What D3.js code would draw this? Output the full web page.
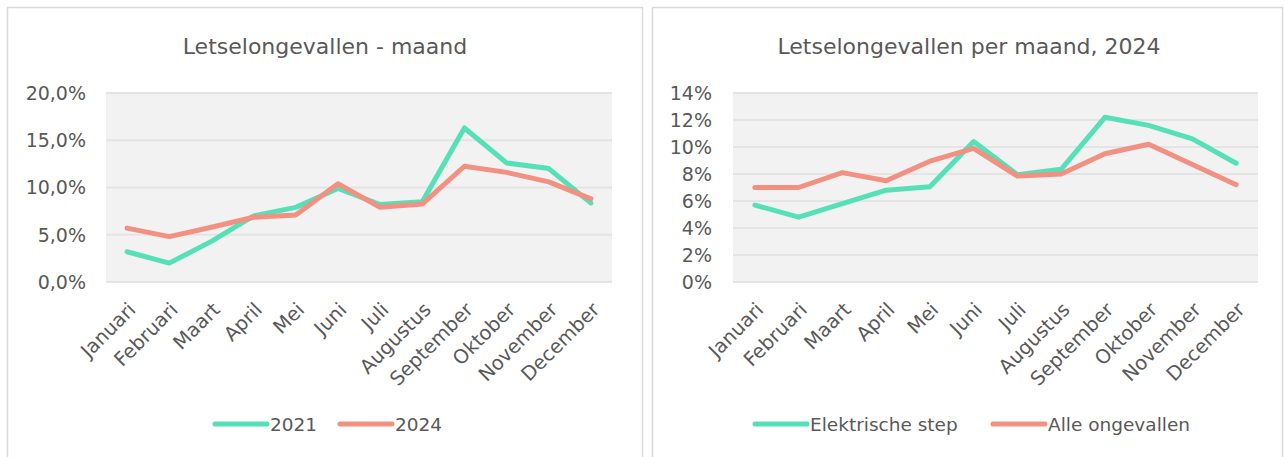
<!DOCTYPE html>
<html>
<head>
<meta charset="utf-8">
<script src="https://cdn.jsdelivr.net/npm/d3@7"></script>
<style>
  body { margin: 0; background: #fff; }
  svg { display: block; font-family: "DejaVu Sans", Verdana, sans-serif; }
</style>
</head>
<body>
<svg id="chart" width="1285" height="457"></svg>
<script>
// months on the x axis
const months = ["Januari", "Februari", "Maart", "April", "Mei", "Juni", "Juli",
  "Augustus", "September", "Oktober", "November", "December"];

// left chart: share of injury accidents per month
const series2021 = [3.2, 2.0, 4.3, 7.0, 7.9, 9.9, 8.2, 8.5, 16.3, 12.6, 12.0, 8.35];
const series2024 = [5.7, 4.8, 5.8, 6.85, 7.1, 10.4, 7.9, 8.25, 12.25, 11.6, 10.6, 8.8];
const leftTicks = [0, 5, 10, 15, 20];

// right chart: 2024, e-step vs all accidents
const stepValues = [5.7, 4.8, 5.8, 6.8, 7.05, 10.4, 7.95, 8.35, 12.2, 11.6, 10.6, 8.8];
const alleValues = [7.0, 7.0, 8.1, 7.5, 8.95, 9.9, 7.85, 8.0, 9.5, 10.2, 8.7, 7.2];
const rightTicks = [0, 2, 4, 6, 8, 10, 12, 14];

const green = "#55e0b8";
const red = "#f29182";
const textColor = "#595959";

const nl = d3.formatLocale({ decimal: ",", thousands: ".", grouping: [3], currency: ["€", ""] });

const svg = d3.select("#chart");

function drawChart(opt) {
  const g = svg.append("g");

  // panel border
  g.append("rect")
    .attr("x", opt.panel[0] + 0.5).attr("y", 7.5)
    .attr("width", opt.panel[1] - opt.panel[0]).attr("height", 470)
    .attr("fill", "#fff").attr("stroke", "#d9d9d9").attr("stroke-width", 1.5);

  const x = d3.scaleBand().domain(months).range(opt.xRange);
  const y = d3.scaleLinear().domain([0, opt.max]).range([282, 93]);

  // plot background
  g.append("rect")
    .attr("x", opt.xRange[0]).attr("y", y(opt.max))
    .attr("width", opt.xRange[1] - opt.xRange[0]).attr("height", y(0) - y(opt.max))
    .attr("fill", "#f2f2f2");

  // gridlines
  g.selectAll(".grid").data(opt.ticks).enter().append("line")
    .attr("x1", opt.xRange[0]).attr("x2", opt.xRange[1])
    .attr("y1", d => y(d)).attr("y2", d => y(d))
    .attr("stroke", "#e4e4e4").attr("stroke-width", 2);

  // y axis labels
  g.selectAll(".ytick").data(opt.ticks).enter().append("text")
    .attr("x", opt.labelRight).attr("y", d => y(d))
    .attr("dy", "0.36em")
    .attr("text-anchor", "end")
    .attr("font-size", 19)
    .attr("fill", textColor)
    .text(d => opt.fmt(d));

  // x axis labels, rotated
  g.selectAll(".xtick").data(months).enter().append("text")
    .attr("transform", d => "translate(" + (x(d) + x.bandwidth() / 2 + 5) + ",306) rotate(-45)")
    .attr("text-anchor", "end")
    .attr("dy", "0.35em")
    .attr("font-size", 19.5)
    .attr("fill", textColor)
    .text(d => d);

  const line = d3.line()
    .x((d, i) => x(months[i]) + x.bandwidth() / 2)
    .y(d => y(d));

  opt.series.forEach(s => {
    g.append("path")
      .datum(s.values)
      .attr("d", line)
      .attr("fill", "none")
      .attr("stroke", s.color)
      .attr("stroke-width", 5)
      .attr("stroke-linejoin", "round")
      .attr("stroke-linecap", "round");
  });

  // title
  g.append("text")
    .attr("x", opt.titleX).attr("y", 54)
    .attr("text-anchor", "middle")
    .attr("font-size", 22)
    .attr("fill", textColor)
    .text(opt.title);

  // legend
  opt.series.forEach(s => {
    g.append("line")
      .attr("x1", s.legendX).attr("x2", s.legendX + 52)
      .attr("y1", 424).attr("y2", 424)
      .attr("stroke", s.color).attr("stroke-width", 5)
      .attr("stroke-linecap", "round");
    g.append("text")
      .attr("x", s.legendX + 55).attr("y", 424)
      .attr("dy", "0.36em")
      .attr("font-size", 18.5)
      .attr("fill", textColor)
      .text(s.name);
  });
}

drawChart({
  panel: [7, 642],
  xRange: [106, 612],
  max: 20,
  ticks: leftTicks,
  fmt: d => nl.format(".1f")(d) + "%",
  labelRight: 86,
  titleX: 325,
  title: "Letselongevallen - maand",
  series: [
    { name: "2021", values: series2021, color: green, legendX: 215 },
    { name: "2024", values: series2024, color: red, legendX: 340 }
  ]
});

drawChart({
  panel: [652, 1282],
  xRange: [733, 1258],
  max: 14,
  ticks: rightTicks,
  fmt: d => d + "%",
  labelRight: 712,
  titleX: 969,
  title: "Letselongevallen per maand, 2024",
  series: [
    { name: "Elektrische step", values: stepValues, color: green, legendX: 755 },
    { name: "Alle ongevallen", values: alleValues, color: red, legendX: 993 }
  ]
});
</script>
</body>
</html>
